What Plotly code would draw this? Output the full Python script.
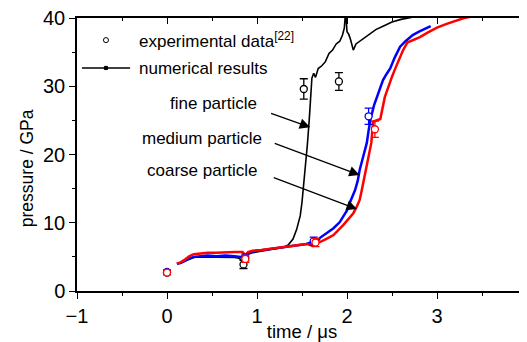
import plotly.graph_objects as go

# ---- data ----
fine_x = [0.11,0.15,0.2,0.25,0.3,0.35,0.45,0.55,0.65,0.75,0.8,0.84,0.86,0.9,0.95,1.05,1.15,1.25,1.3,1.35,1.4,1.44,1.48,1.5,1.52,1.54,1.56,1.58,1.6,1.61,1.63,1.65,1.68,1.72,1.76,1.8,1.84,1.88,1.92,1.95,1.97,1.985,2.0,2.02,2.04,2.07,2.1,2.14,2.2,2.26,2.32,2.4,2.5,2.6,2.7,2.8,2.9]
fine_y = [4.0,4.1,4.4,4.7,4.9,5.0,5.0,4.9,5.0,4.9,4.8,4.4,4.6,5.4,5.6,5.8,6.0,6.2,6.4,6.8,7.6,9.0,11.0,13.0,15.5,18.5,21.5,25.0,29.0,31.2,31.9,31.3,32.6,33.0,33.6,34.8,35.3,36.2,36.6,37.5,38.5,41.0,38.0,37.6,36.8,35.3,36.2,36.6,37.2,37.8,38.3,38.8,39.4,39.8,40.0,40.3,40.6]

medium_x = [0.11,0.15,0.2,0.25,0.3,0.35,0.45,0.55,0.65,0.75,0.82,0.86,0.9,0.95,1.05,1.15,1.25,1.35,1.45,1.55,1.62,1.66,1.7,1.78,1.85,1.92,1.96,2.0,2.03,2.06,2.09,2.12,2.14,2.17,2.2,2.22,2.24,2.26,2.3,2.33,2.37,2.4,2.44,2.48,2.53,2.59,2.65,2.73,2.8,2.89,2.93]
medium_y = [4.0,4.1,4.4,4.8,5.0,5.1,5.2,5.1,5.2,5.1,5.0,5.2,5.6,5.8,6.0,6.2,6.4,6.5,6.7,6.9,7.2,7.0,7.8,8.5,9.2,10.1,10.9,11.8,12.9,13.8,14.8,16.2,17.7,19.2,20.7,21.7,23.5,25.1,27.2,28.4,29.8,30.9,31.8,32.6,34.2,35.8,36.6,37.5,38.0,38.6,38.8]

coarse_x = [0.11,0.15,0.2,0.25,0.3,0.35,0.45,0.55,0.65,0.75,0.84,0.87,0.9,0.95,1.05,1.15,1.25,1.35,1.45,1.55,1.62,1.67,1.75,1.85,1.96,2.02,2.07,2.11,2.14,2.16,2.18,2.2,2.22,2.24,2.26,2.27,2.29,2.34,2.37,2.42,2.46,2.5,2.53,2.57,2.62,2.67,2.74,2.81,2.9,3.0,3.1,3.22,3.3,3.38]
coarse_y = [4.0,4.2,4.6,5.1,5.4,5.5,5.6,5.6,5.7,5.7,5.7,5.2,5.7,5.9,6.0,6.2,6.3,6.5,6.7,6.9,6.6,7.0,7.5,8.2,9.7,10.6,11.4,12.4,13.3,14.5,15.8,17.0,18.2,19.5,20.7,21.7,24.8,25.0,25.2,28.4,30.0,31.4,32.4,33.6,35.2,36.4,36.8,37.2,37.9,38.6,39.1,39.7,40.0,40.2]

exp_black_x = [0, 0.85, 1.52, 1.91]
exp_black_y = [2.7, 3.9, 29.6, 30.7]
exp_black_err = [0.3, 0.6, 1.5, 1.3]
exp_blue_x = [0, 0.87, 1.63, 2.24]
exp_blue_y = [2.8, 4.9, 7.3, 25.6]
exp_blue_err = [0.3, 0.5, 0.6, 1.2]
exp_red_x = [0, 0.87, 1.65, 2.31]
exp_red_y = [2.7, 4.7, 7.1, 23.7]
exp_red_err = [0.3, 0.5, 0.6, 1.2]

x_ticks = [-1, 0, 1, 2, 3, 4]
y_ticks = [0, 10, 20, 30, 40]

labels = ["fine particle", "medium particle", "coarse particle"]
label_pos = [(0.52, 27.5), (0.39, 22.4), (0.39, 17.7)]
arrow_tail = [(1.14, 26.1), (1.18, 21.7), (1.17, 16.7)]
arrow_head = [(1.59, 24.0), (2.14, 17.0), (2.11, 12.0)]

FONT = "Liberation Sans, Arial, sans-serif"

fig = go.Figure()
fig.add_trace(go.Scatter(x=fine_x, y=fine_y, mode="lines", line=dict(color="black", width=1.6), showlegend=False))
fig.add_trace(go.Scatter(x=medium_x, y=medium_y, mode="lines", line=dict(color="#0000ff", width=2.5), showlegend=False))
fig.add_trace(go.Scatter(x=coarse_x, y=coarse_y, mode="lines", line=dict(color="#ff0000", width=2.5), showlegend=False))

for xs, ys, es, col in [(exp_black_x, exp_black_y, exp_black_err, "black"),
                        (exp_blue_x, exp_blue_y, exp_blue_err, "#0000ff"),
                        (exp_red_x, exp_red_y, exp_red_err, "#ff0000")]:
    fig.add_trace(go.Scatter(
        x=xs, y=ys, mode="markers",
        marker=dict(symbol="circle", size=7, color="white", line=dict(color=col, width=1.3)),
        error_y=dict(type="data", array=es, color=col, thickness=1.3, width=4),
        showlegend=False))

# invisible trace for mirrored axes
fig.add_trace(go.Scatter(x=[None], y=[None], xaxis="x2", yaxis="y2", showlegend=False))

for txt, (lx, ly) in zip(labels, label_pos):
    fig.add_annotation(x=lx, y=ly, text=txt, showarrow=False, xref="x", yref="y",
                       font=dict(family=FONT, size=17, color="black"))
for (tx, ty), (hx, hy) in zip(arrow_tail, arrow_head):
    fig.add_annotation(x=hx, y=hy, ax=tx, ay=ty, axref="x", ayref="y", xref="x", yref="y",
                       text="", showarrow=True, arrowhead=2, arrowsize=1.6, arrowwidth=1.3,
                       arrowcolor="black", standoff=0, startstandoff=0)

# legend (manual)
fig.add_annotation(x=0.133, y=0.918, xref="paper", yref="paper", xanchor="left", yanchor="middle",
                   text="experimental data<sup>[22]</sup>", showarrow=False,
                   font=dict(family=FONT, size=17, color="black"))
fig.add_annotation(x=0.133, y=0.816, xref="paper", yref="paper", xanchor="left", yanchor="middle",
                   text="numerical results", showarrow=False,
                   font=dict(family=FONT, size=17, color="black"))
fig.add_shape(type="circle", xref="paper", yref="paper", x0=0.0644-0.0056, x1=0.0644+0.0056,
              y0=0.919-0.0092, y1=0.919+0.0092, line=dict(color="black", width=1))
fig.add_shape(type="line", xref="paper", yref="paper", x0=0.011, x1=0.118, y0=0.817, y1=0.817,
              line=dict(color="black", width=1.5))
fig.add_shape(type="rect", xref="paper", yref="paper", x0=0.0644-0.0035, x1=0.0644+0.0035,
              y0=0.817-0.0058, y1=0.817+0.0058, line=dict(color="black", width=1), fillcolor="black")

# y axis title (placed as rotated text, slightly below the axis centre as in the reference)
fig.add_annotation(x=-0.111, y=0.45, xref="paper", yref="paper", xanchor="center", yanchor="middle",
                   text="pressure / GPa", textangle=-90, showarrow=False,
                   font=dict(family=FONT, size=17.5, color="black"))

axis_common = dict(showline=True, linecolor="black", linewidth=1.5, showgrid=False, zeroline=False,
                   tickcolor="black", tickwidth=1.3, automargin=False,
                   tickfont=dict(family=FONT, size=20, color="black"))

# page body has an 8px default margin, so the figure is sized/positioned to compensate
fig.update_layout(
    width=519, height=334,
    margin=dict(l=69, r=0, t=10, b=51, autoexpand=False),
    plot_bgcolor="white", paper_bgcolor="white",
    xaxis=dict(range=[-1, 4], tickvals=x_ticks, ticks="outside", ticklen=6, ticklabeloverflow="allow",
               minor=dict(dtick=0.5, ticks="outside", ticklen=3, tickcolor="black", tickwidth=1.3),
               title=dict(text="time / \u03bcs", font=dict(family=FONT, size=18.5, color="black"), standoff=2),
               **axis_common),
    yaxis=dict(range=[0, 40], tickvals=y_ticks, ticks="outside", ticklen=6, ticklabeloverflow="allow",
               minor=dict(dtick=5, ticks="outside", ticklen=3, tickcolor="black", tickwidth=1.3),
               **axis_common),
    xaxis2=dict(range=[-1, 4], overlaying="x", side="top", tickvals=x_ticks, ticks="inside", ticklen=6,
                showticklabels=False,
                minor=dict(dtick=0.5, ticks="inside", ticklen=3, tickcolor="black", tickwidth=1.3),
                **axis_common),
    yaxis2=dict(range=[0, 40], overlaying="y", side="right", tickvals=y_ticks, ticks="inside", ticklen=6,
                showticklabels=False,
                minor=dict(dtick=5, ticks="inside", ticklen=3, tickcolor="black", tickwidth=1.3),
                **axis_common),
)

fig.write_html("out.html")
